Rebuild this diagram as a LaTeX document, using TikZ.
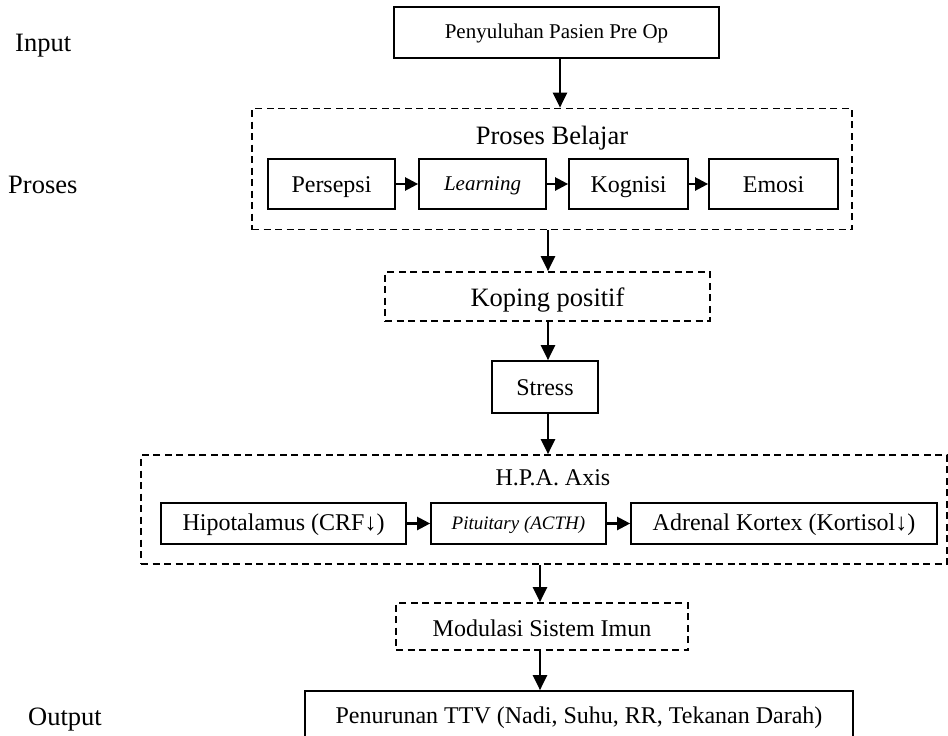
\documentclass[tikz,border=0pt]{standalone}
\usepackage{fontspec}
\setmainfont{Liberation Serif}
\usetikzlibrary{arrows.meta}
\begin{document}
\begin{tikzpicture}[x=1pt,y=-1pt,
  solidbox/.style={draw, line width=1.7pt, rectangle, inner sep=0pt, align=center},
  dashbox/.style={draw, line width=1.7pt, dash pattern=on 7pt off 4.5pt, rectangle, inner sep=0pt},
  arr/.style={line width=2.3pt, -{Triangle[length=15pt,width=14pt]}},
  harr/.style={line width=2.3pt, -{Triangle[length=13pt,width=13pt]}},
  fmain/.style={font=\fontsize{24}{28}\selectfont, text height=22pt, text depth=5pt},
  fmod/.style={font=\fontsize{24}{28}\selectfont, text height=24pt, text depth=5pt},
  fhpa/.style={font=\fontsize{24}{28}\selectfont, text height=19pt, text depth=5pt},
  fout/.style={font=\fontsize{24}{28}\selectfont, text height=16pt, text depth=6pt},
  fbig/.style={font=\fontsize{26.5}{30}\selectfont},
  fkop/.style={font=\fontsize{26.5}{30}\selectfont, text height=24.8pt, text depth=5.8pt},
  fsmall/.style={font=\fontsize{21}{25}\selectfont, text height=16pt, text depth=4.4pt},
  fital/.style={font=\fontsize{21}{25}\selectfont\itshape, text height=17.8pt, text depth=4.4pt},
  fpit/.style={font=\fontsize{19}{23}\selectfont\itshape, text height=15pt, text depth=4pt},
  sidelabel/.style={fbig, anchor=base west, inner sep=0pt}
]
\useasboundingbox (0,0) rectangle (948,736);
\clip (0,0) rectangle (948,736);

% side labels
\node[sidelabel] (lin) at (15,51) {Input};
\node[sidelabel] (lpr) at (8,193) {Proses};
\node[sidelabel] (lout) at (28,725) {Output};

% input
\node[solidbox, fsmall, minimum width=325pt, minimum height=51pt] (top) at (556.5,32.5) {Penyuluhan Pasien Pre Op};

% proses belajar
\node[dashbox, minimum width=600pt, minimum height=121pt] (pb) at (552,169) {};
\node[fbig, inner sep=0pt, anchor=base] (pbt) at (552,144) {Proses Belajar};
\node[solidbox, fmain, minimum width=127pt, minimum height=50pt] (pers) at (331.5,184) {Persepsi};
\node[solidbox, fital, minimum width=127pt, minimum height=50pt] (learn) at (482.5,184) {Learning};
\node[solidbox, fmain, minimum width=119pt, minimum height=50pt] (kog) at (628.5,184) {Kognisi};
\node[solidbox, fmain, minimum width=129pt, minimum height=50pt] (emo) at (773.5,184) {Emosi};

% koping, stress
\node[dashbox, fkop, minimum width=325pt, minimum height=49pt] (kop) at (547.5,296.5) {Koping positif};
\node[solidbox, fmain, minimum width=106pt, minimum height=52pt] (str) at (545,387) {Stress};

% HPA axis
\node[dashbox, minimum width=806pt, minimum height=109pt] (hpa) at (544,509.5) {};
\node[fmain, inner sep=0pt] (hpat) at (553,477) {H.P.A. Axis};
\node[solidbox, fhpa, minimum width=245pt, minimum height=41pt] (hipo) at (283.5,523.5) {Hipotalamus (CRF↓)};
\node[solidbox, fpit, minimum width=175pt, minimum height=41pt] (pit) at (518.5,523.5) {Pituitary (ACTH)};
\node[solidbox, fhpa, minimum width=306pt, minimum height=41pt] (adr) at (784,523.5) {Adrenal Kortex (Kortisol↓)};

% modulasi, output
\node[dashbox, fmod, minimum width=292pt, minimum height=47pt] (mod) at (542,626.5) {Modulasi Sistem Imun};
\node[solidbox, fout, minimum width=548pt, minimum height=54pt] (out) at (579,718) {Penurunan TTV (Nadi, Suhu, RR, Tekanan Darah)};

% connectors
\coordinate (c1) at (560,0);
\coordinate (c2) at (548,0);
\coordinate (c3) at (540,0);
\draw[arr] (top.south -| c1) -- (pb.north -| c1);
\draw[harr] (pers) -- (learn);
\draw[harr] (learn) -- (kog);
\draw[harr] (kog) -- (emo);
\draw[arr] (pb.south -| c2) -- (kop.north -| c2);
\draw[arr] (kop.south -| c2) -- (str.north -| c2);
\draw[arr] (str.south -| c2) -- (hpa.north -| c2);
\draw[harr] (hipo) -- (pit);
\draw[harr] (pit) -- (adr);
\draw[arr] (hpa.south -| c3) -- (mod.north -| c3);
\draw[arr] (mod.south -| c3) -- (out.north -| c3);
\end{tikzpicture}
\end{document}
